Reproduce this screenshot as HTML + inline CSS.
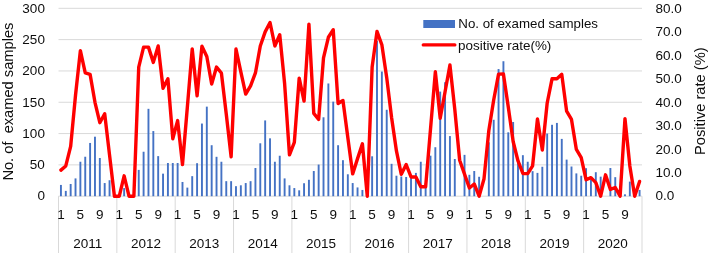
<!DOCTYPE html><html><head><meta charset="utf-8"><style>
html,body{margin:0;padding:0;background:#fff;width:709px;height:253px;overflow:hidden}
svg{display:block;will-change:transform}
text{font-family:"Liberation Sans", sans-serif;fill:#0d0d0d}
</style></head><body>
<svg width="709" height="253" viewBox="0 0 709 253">
<rect width="709" height="253" fill="#fff"/>
<line x1="58.50" y1="164.88" x2="642.00" y2="164.88" stroke="#D9D9D9" stroke-width="1"/>
<line x1="58.50" y1="133.57" x2="642.00" y2="133.57" stroke="#D9D9D9" stroke-width="1"/>
<line x1="58.50" y1="102.25" x2="642.00" y2="102.25" stroke="#D9D9D9" stroke-width="1"/>
<line x1="58.50" y1="70.94" x2="642.00" y2="70.94" stroke="#D9D9D9" stroke-width="1"/>
<line x1="58.50" y1="39.62" x2="642.00" y2="39.62" stroke="#D9D9D9" stroke-width="1"/>
<line x1="58.50" y1="8.31" x2="642.00" y2="8.31" stroke="#D9D9D9" stroke-width="1"/>
<line x1="58.50" y1="196.20" x2="642.00" y2="196.20" stroke="#D9D9D9" stroke-width="1"/>
<line x1="58.50" y1="196.20" x2="58.50" y2="253" stroke="#D9D9D9" stroke-width="1"/>
<line x1="116.85" y1="196.20" x2="116.85" y2="253" stroke="#D9D9D9" stroke-width="1"/>
<line x1="175.20" y1="196.20" x2="175.20" y2="253" stroke="#D9D9D9" stroke-width="1"/>
<line x1="233.55" y1="196.20" x2="233.55" y2="253" stroke="#D9D9D9" stroke-width="1"/>
<line x1="291.90" y1="196.20" x2="291.90" y2="253" stroke="#D9D9D9" stroke-width="1"/>
<line x1="350.25" y1="196.20" x2="350.25" y2="253" stroke="#D9D9D9" stroke-width="1"/>
<line x1="408.60" y1="196.20" x2="408.60" y2="253" stroke="#D9D9D9" stroke-width="1"/>
<line x1="466.95" y1="196.20" x2="466.95" y2="253" stroke="#D9D9D9" stroke-width="1"/>
<line x1="525.30" y1="196.20" x2="525.30" y2="253" stroke="#D9D9D9" stroke-width="1"/>
<line x1="583.65" y1="196.20" x2="583.65" y2="253" stroke="#D9D9D9" stroke-width="1"/>
<line x1="642.00" y1="196.20" x2="642.00" y2="253" stroke="#D9D9D9" stroke-width="1"/>
<rect x="59.98" y="184.93" width="1.90" height="11.27" fill="#4472C4"/>
<rect x="64.84" y="190.88" width="1.90" height="5.32" fill="#4472C4"/>
<rect x="69.71" y="183.99" width="1.90" height="12.21" fill="#4472C4"/>
<rect x="74.57" y="178.41" width="1.90" height="17.79" fill="#4472C4"/>
<rect x="79.43" y="161.75" width="1.90" height="34.45" fill="#4472C4"/>
<rect x="84.29" y="156.74" width="1.90" height="39.46" fill="#4472C4"/>
<rect x="89.16" y="142.96" width="1.90" height="53.24" fill="#4472C4"/>
<rect x="94.02" y="136.70" width="1.90" height="59.50" fill="#4472C4"/>
<rect x="98.88" y="158.00" width="1.90" height="38.20" fill="#4472C4"/>
<rect x="103.74" y="183.05" width="1.90" height="13.15" fill="#4472C4"/>
<rect x="108.61" y="180.23" width="1.90" height="15.97" fill="#4472C4"/>
<rect x="113.47" y="194.95" width="1.90" height="1.25" fill="#4472C4"/>
<rect x="118.33" y="194.95" width="1.90" height="1.25" fill="#4472C4"/>
<rect x="123.19" y="188.06" width="1.90" height="8.14" fill="#4472C4"/>
<rect x="128.06" y="194.95" width="1.90" height="1.25" fill="#4472C4"/>
<rect x="132.92" y="194.95" width="1.90" height="1.25" fill="#4472C4"/>
<rect x="137.78" y="169.90" width="1.90" height="26.30" fill="#4472C4"/>
<rect x="142.64" y="151.73" width="1.90" height="44.47" fill="#4472C4"/>
<rect x="147.51" y="108.83" width="1.90" height="87.37" fill="#4472C4"/>
<rect x="152.37" y="131.06" width="1.90" height="65.14" fill="#4472C4"/>
<rect x="157.23" y="156.12" width="1.90" height="40.08" fill="#4472C4"/>
<rect x="162.09" y="173.65" width="1.90" height="22.55" fill="#4472C4"/>
<rect x="166.96" y="163.01" width="1.90" height="33.19" fill="#4472C4"/>
<rect x="171.82" y="163.01" width="1.90" height="33.19" fill="#4472C4"/>
<rect x="176.68" y="163.01" width="1.90" height="33.19" fill="#4472C4"/>
<rect x="181.54" y="181.98" width="1.90" height="14.22" fill="#4472C4"/>
<rect x="186.41" y="187.62" width="1.90" height="8.58" fill="#4472C4"/>
<rect x="191.27" y="176.16" width="1.90" height="20.04" fill="#4472C4"/>
<rect x="196.13" y="163.19" width="1.90" height="33.01" fill="#4472C4"/>
<rect x="200.99" y="123.55" width="1.90" height="72.65" fill="#4472C4"/>
<rect x="205.86" y="106.64" width="1.90" height="89.56" fill="#4472C4"/>
<rect x="210.72" y="145.22" width="1.90" height="50.98" fill="#4472C4"/>
<rect x="215.58" y="156.81" width="1.90" height="39.39" fill="#4472C4"/>
<rect x="220.44" y="161.75" width="1.90" height="34.45" fill="#4472C4"/>
<rect x="225.31" y="181.17" width="1.90" height="15.03" fill="#4472C4"/>
<rect x="230.17" y="181.17" width="1.90" height="15.03" fill="#4472C4"/>
<rect x="235.03" y="186.18" width="1.90" height="10.02" fill="#4472C4"/>
<rect x="239.89" y="185.30" width="1.90" height="10.90" fill="#4472C4"/>
<rect x="244.76" y="183.05" width="1.90" height="13.15" fill="#4472C4"/>
<rect x="249.62" y="181.17" width="1.90" height="15.03" fill="#4472C4"/>
<rect x="254.48" y="168.02" width="1.90" height="28.18" fill="#4472C4"/>
<rect x="259.34" y="143.28" width="1.90" height="52.92" fill="#4472C4"/>
<rect x="264.21" y="120.42" width="1.90" height="75.78" fill="#4472C4"/>
<rect x="269.07" y="138.33" width="1.90" height="57.87" fill="#4472C4"/>
<rect x="273.93" y="161.75" width="1.90" height="34.45" fill="#4472C4"/>
<rect x="278.79" y="155.74" width="1.90" height="40.46" fill="#4472C4"/>
<rect x="283.66" y="178.41" width="1.90" height="17.79" fill="#4472C4"/>
<rect x="288.52" y="185.30" width="1.90" height="10.90" fill="#4472C4"/>
<rect x="293.38" y="188.06" width="1.90" height="8.14" fill="#4472C4"/>
<rect x="298.24" y="190.31" width="1.90" height="5.89" fill="#4472C4"/>
<rect x="303.11" y="183.24" width="1.90" height="12.96" fill="#4472C4"/>
<rect x="307.97" y="179.79" width="1.90" height="16.41" fill="#4472C4"/>
<rect x="312.83" y="171.02" width="1.90" height="25.18" fill="#4472C4"/>
<rect x="317.69" y="164.57" width="1.90" height="31.63" fill="#4472C4"/>
<rect x="322.56" y="117.29" width="1.90" height="78.91" fill="#4472C4"/>
<rect x="327.42" y="83.47" width="1.90" height="112.73" fill="#4472C4"/>
<rect x="332.28" y="101.63" width="1.90" height="94.57" fill="#4472C4"/>
<rect x="337.14" y="145.22" width="1.90" height="50.98" fill="#4472C4"/>
<rect x="342.01" y="160.19" width="1.90" height="36.01" fill="#4472C4"/>
<rect x="346.87" y="174.28" width="1.90" height="21.92" fill="#4472C4"/>
<rect x="351.73" y="183.05" width="1.90" height="13.15" fill="#4472C4"/>
<rect x="356.59" y="187.43" width="1.90" height="8.77" fill="#4472C4"/>
<rect x="361.46" y="189.94" width="1.90" height="6.26" fill="#4472C4"/>
<rect x="366.32" y="193.69" width="1.90" height="2.51" fill="#4472C4"/>
<rect x="371.18" y="156.30" width="1.90" height="39.90" fill="#4472C4"/>
<rect x="376.04" y="40.88" width="1.90" height="155.32" fill="#4472C4"/>
<rect x="380.91" y="71.57" width="1.90" height="124.63" fill="#4472C4"/>
<rect x="385.77" y="109.77" width="1.90" height="86.43" fill="#4472C4"/>
<rect x="390.63" y="163.82" width="1.90" height="32.38" fill="#4472C4"/>
<rect x="395.49" y="175.72" width="1.90" height="20.48" fill="#4472C4"/>
<rect x="400.36" y="176.47" width="1.90" height="19.73" fill="#4472C4"/>
<rect x="405.22" y="176.97" width="1.90" height="19.23" fill="#4472C4"/>
<rect x="410.08" y="176.97" width="1.90" height="19.23" fill="#4472C4"/>
<rect x="414.94" y="172.90" width="1.90" height="23.30" fill="#4472C4"/>
<rect x="419.81" y="161.75" width="1.90" height="34.45" fill="#4472C4"/>
<rect x="424.67" y="183.05" width="1.90" height="13.15" fill="#4472C4"/>
<rect x="429.53" y="155.68" width="1.90" height="40.52" fill="#4472C4"/>
<rect x="434.39" y="147.22" width="1.90" height="48.98" fill="#4472C4"/>
<rect x="439.26" y="91.61" width="1.90" height="104.59" fill="#4472C4"/>
<rect x="444.12" y="82.21" width="1.90" height="113.99" fill="#4472C4"/>
<rect x="448.98" y="136.08" width="1.90" height="60.12" fill="#4472C4"/>
<rect x="453.84" y="159.00" width="1.90" height="37.20" fill="#4472C4"/>
<rect x="458.71" y="196.20" width="1.90" height="0.00" fill="#4472C4"/>
<rect x="463.57" y="154.86" width="1.90" height="41.34" fill="#4472C4"/>
<rect x="468.43" y="174.78" width="1.90" height="21.42" fill="#4472C4"/>
<rect x="473.29" y="171.02" width="1.90" height="25.18" fill="#4472C4"/>
<rect x="478.16" y="176.78" width="1.90" height="19.42" fill="#4472C4"/>
<rect x="483.02" y="196.20" width="1.90" height="0.00" fill="#4472C4"/>
<rect x="487.88" y="142.34" width="1.90" height="53.86" fill="#4472C4"/>
<rect x="492.74" y="119.79" width="1.90" height="76.41" fill="#4472C4"/>
<rect x="497.61" y="69.06" width="1.90" height="127.14" fill="#4472C4"/>
<rect x="502.47" y="61.23" width="1.90" height="134.97" fill="#4472C4"/>
<rect x="507.33" y="132.32" width="1.90" height="63.88" fill="#4472C4"/>
<rect x="512.19" y="121.98" width="1.90" height="74.22" fill="#4472C4"/>
<rect x="517.06" y="159.87" width="1.90" height="36.33" fill="#4472C4"/>
<rect x="521.92" y="155.18" width="1.90" height="41.02" fill="#4472C4"/>
<rect x="526.78" y="161.75" width="1.90" height="34.45" fill="#4472C4"/>
<rect x="531.64" y="171.15" width="1.90" height="25.05" fill="#4472C4"/>
<rect x="536.51" y="172.90" width="1.90" height="23.30" fill="#4472C4"/>
<rect x="541.37" y="166.76" width="1.90" height="29.44" fill="#4472C4"/>
<rect x="546.23" y="133.57" width="1.90" height="62.63" fill="#4472C4"/>
<rect x="551.09" y="124.80" width="1.90" height="71.40" fill="#4472C4"/>
<rect x="555.96" y="122.92" width="1.90" height="73.28" fill="#4472C4"/>
<rect x="560.82" y="138.89" width="1.90" height="57.31" fill="#4472C4"/>
<rect x="565.68" y="159.62" width="1.90" height="36.58" fill="#4472C4"/>
<rect x="570.54" y="166.51" width="1.90" height="29.69" fill="#4472C4"/>
<rect x="575.41" y="173.40" width="1.90" height="22.80" fill="#4472C4"/>
<rect x="580.27" y="175.72" width="1.90" height="20.48" fill="#4472C4"/>
<rect x="585.13" y="168.20" width="1.90" height="28.00" fill="#4472C4"/>
<rect x="589.99" y="179.29" width="1.90" height="16.91" fill="#4472C4"/>
<rect x="594.86" y="172.21" width="1.90" height="23.99" fill="#4472C4"/>
<rect x="599.72" y="176.66" width="1.90" height="19.54" fill="#4472C4"/>
<rect x="604.58" y="196.20" width="1.90" height="0.00" fill="#4472C4"/>
<rect x="609.44" y="168.02" width="1.90" height="28.18" fill="#4472C4"/>
<rect x="614.31" y="177.16" width="1.90" height="19.04" fill="#4472C4"/>
<rect x="619.17" y="194.95" width="1.90" height="1.25" fill="#4472C4"/>
<rect x="624.03" y="194.32" width="1.90" height="1.88" fill="#4472C4"/>
<rect x="628.89" y="181.61" width="1.90" height="14.59" fill="#4472C4"/>
<rect x="633.76" y="196.20" width="1.90" height="0.00" fill="#4472C4"/>
<rect x="638.62" y="189.94" width="1.90" height="6.26" fill="#4472C4"/>
<polyline points="60.93,170.14 65.79,165.92 70.66,146.43 75.52,95.26 80.38,50.65 85.24,72.96 90.11,74.36 94.97,102.30 99.83,122.72 104.69,113.80 109.56,155.12 114.42,196.20 119.28,196.20 124.14,175.78 129.01,196.20 133.87,196.20 138.73,67.09 143.59,47.13 148.46,47.13 153.32,62.39 158.18,45.96 163.04,88.21 167.91,78.82 172.77,138.69 177.63,120.61 182.49,164.51 187.36,106.99 192.22,49.01 197.08,95.73 201.94,46.19 206.81,56.52 211.67,83.99 216.53,67.09 221.39,72.96 226.26,114.04 231.12,156.76 235.98,49.01 240.84,71.78 245.71,94.08 250.57,85.87 255.43,72.96 260.29,45.96 265.16,31.87 270.02,22.48 274.88,45.96 279.74,34.69 284.61,83.52 289.47,154.88 294.33,142.44 299.19,78.12 304.06,101.13 308.92,24.13 313.78,113.33 318.64,119.44 323.51,57.93 328.37,37.27 333.23,29.76 338.09,103.47 342.96,100.42 347.82,137.51 352.68,173.90 357.54,158.64 362.41,143.85 367.27,196.20 372.13,67.09 376.99,31.41 381.86,44.79 386.72,77.65 391.58,117.56 396.44,150.89 401.31,174.37 406.17,164.51 411.03,176.95 415.89,176.95 420.76,186.81 425.62,186.81 430.48,129.30 435.34,71.78 440.21,118.26 445.07,91.74 449.93,64.97 454.79,109.34 459.66,160.28 464.52,174.13 469.38,187.98 474.24,183.99 479.11,196.20 483.97,179.06 488.83,130.47 493.69,99.95 498.56,74.13 503.42,73.90 508.28,106.99 513.14,141.50 518.01,160.99 522.87,173.43 527.73,173.66 532.59,165.92 537.46,118.97 542.32,149.95 547.18,103.00 552.04,78.82 556.91,78.82 561.77,74.36 566.63,111.22 571.49,119.44 576.36,149.48 581.22,157.70 586.08,179.77 590.94,177.65 595.81,182.58 600.67,196.20 605.53,174.84 610.39,189.39 615.26,187.51 620.12,196.20 624.98,118.73 629.84,165.92 634.71,196.20 639.57,181.41" fill="none" stroke="#FF0000" stroke-width="3.4" stroke-linejoin="round" stroke-linecap="round"/>
<text x="44.9" y="199.90" font-size="13.5" text-anchor="end">0</text>
<text x="44.9" y="169.19" font-size="13.5" text-anchor="end">50</text>
<text x="44.9" y="137.87" font-size="13.5" text-anchor="end">100</text>
<text x="44.9" y="106.55" font-size="13.5" text-anchor="end">150</text>
<text x="44.9" y="75.24" font-size="13.5" text-anchor="end">200</text>
<text x="44.9" y="43.92" font-size="13.5" text-anchor="end">250</text>
<text x="44.9" y="12.61" font-size="13.5" text-anchor="end">300</text>
<text x="655.4" y="199.90" font-size="13.5">0.0</text>
<text x="655.4" y="177.03" font-size="13.5">10.0</text>
<text x="655.4" y="153.55" font-size="13.5">20.0</text>
<text x="655.4" y="130.07" font-size="13.5">30.0</text>
<text x="655.4" y="106.60" font-size="13.5">40.0</text>
<text x="655.4" y="83.12" font-size="13.5">50.0</text>
<text x="655.4" y="59.65" font-size="13.5">60.0</text>
<text x="655.4" y="36.17" font-size="13.5">70.0</text>
<text x="655.4" y="12.70" font-size="13.5">80.0</text>
<text x="60.93" y="219.1" font-size="13.5" text-anchor="middle">1</text>
<text x="80.38" y="219.1" font-size="13.5" text-anchor="middle">5</text>
<text x="99.83" y="219.1" font-size="13.5" text-anchor="middle">9</text>
<text x="87.67" y="247.7" font-size="13.5" text-anchor="middle">2011</text>
<text x="119.28" y="219.1" font-size="13.5" text-anchor="middle">1</text>
<text x="138.73" y="219.1" font-size="13.5" text-anchor="middle">5</text>
<text x="158.18" y="219.1" font-size="13.5" text-anchor="middle">9</text>
<text x="146.02" y="247.7" font-size="13.5" text-anchor="middle">2012</text>
<text x="177.63" y="219.1" font-size="13.5" text-anchor="middle">1</text>
<text x="197.08" y="219.1" font-size="13.5" text-anchor="middle">5</text>
<text x="216.53" y="219.1" font-size="13.5" text-anchor="middle">9</text>
<text x="204.38" y="247.7" font-size="13.5" text-anchor="middle">2013</text>
<text x="235.98" y="219.1" font-size="13.5" text-anchor="middle">1</text>
<text x="255.43" y="219.1" font-size="13.5" text-anchor="middle">5</text>
<text x="274.88" y="219.1" font-size="13.5" text-anchor="middle">9</text>
<text x="262.73" y="247.7" font-size="13.5" text-anchor="middle">2014</text>
<text x="294.33" y="219.1" font-size="13.5" text-anchor="middle">1</text>
<text x="313.78" y="219.1" font-size="13.5" text-anchor="middle">5</text>
<text x="333.23" y="219.1" font-size="13.5" text-anchor="middle">9</text>
<text x="321.07" y="247.7" font-size="13.5" text-anchor="middle">2015</text>
<text x="352.68" y="219.1" font-size="13.5" text-anchor="middle">1</text>
<text x="372.13" y="219.1" font-size="13.5" text-anchor="middle">5</text>
<text x="391.58" y="219.1" font-size="13.5" text-anchor="middle">9</text>
<text x="379.43" y="247.7" font-size="13.5" text-anchor="middle">2016</text>
<text x="411.03" y="219.1" font-size="13.5" text-anchor="middle">1</text>
<text x="430.48" y="219.1" font-size="13.5" text-anchor="middle">5</text>
<text x="449.93" y="219.1" font-size="13.5" text-anchor="middle">9</text>
<text x="437.77" y="247.7" font-size="13.5" text-anchor="middle">2017</text>
<text x="469.38" y="219.1" font-size="13.5" text-anchor="middle">1</text>
<text x="488.83" y="219.1" font-size="13.5" text-anchor="middle">5</text>
<text x="508.28" y="219.1" font-size="13.5" text-anchor="middle">9</text>
<text x="496.12" y="247.7" font-size="13.5" text-anchor="middle">2018</text>
<text x="527.73" y="219.1" font-size="13.5" text-anchor="middle">1</text>
<text x="547.18" y="219.1" font-size="13.5" text-anchor="middle">5</text>
<text x="566.63" y="219.1" font-size="13.5" text-anchor="middle">9</text>
<text x="554.47" y="247.7" font-size="13.5" text-anchor="middle">2019</text>
<text x="586.08" y="219.1" font-size="13.5" text-anchor="middle">1</text>
<text x="605.53" y="219.1" font-size="13.5" text-anchor="middle">5</text>
<text x="624.98" y="219.1" font-size="13.5" text-anchor="middle">9</text>
<text x="612.82" y="247.7" font-size="13.5" text-anchor="middle">2020</text>
<text transform="translate(13.1,101.6) rotate(-90)" font-size="14.67" text-anchor="middle" xml:space="preserve">No. of  examed samples</text>
<text transform="translate(705.3,101.2) rotate(-90)" font-size="14.67" text-anchor="middle">Positive rate (%)</text>
<rect x="423.3" y="20" width="31.7" height="8" fill="#4472C4"/>
<line x1="423.3" y1="44.9" x2="454.8" y2="44.9" stroke="#FF0000" stroke-width="3.4" stroke-linecap="round"/>
<text x="458.3" y="27.9" font-size="13.3">No. of examed samples</text>
<text x="458.0" y="49.5" font-size="13.45">positive rate(%)</text>
</svg></body></html>
